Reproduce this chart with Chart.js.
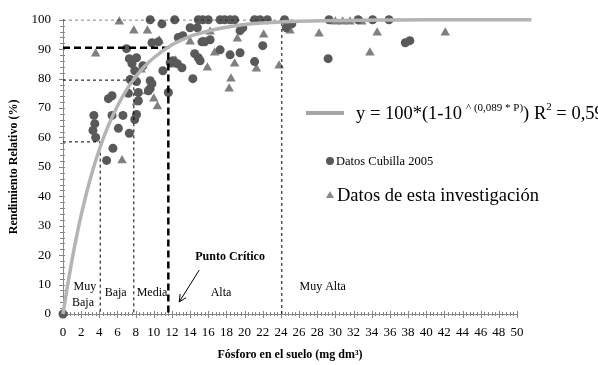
<!DOCTYPE html>
<html>
<head>
<meta charset="utf-8">
<script src="https://cdn.jsdelivr.net/npm/chart.js@4.4.0/dist/chart.umd.min.js"></script>
<style>
  html, body { margin: 0; padding: 0; background: #fff; }
  #wrap { width: 598px; height: 365px; }
</style>
</head>
<body>
<div id="wrap"><canvas id="grafico" width="598" height="365"></canvas></div>
<script>
// curva ajustada (sigue un poco despues del 50)
const curvaP = [0, 0.5, 1, 1.5, 2, 3, 4, 5, 6, 7, 8, 9, 10, 12, 14, 16, 18, 20, 23, 26, 30, 35, 40, 51.6];
const curvaY = [0, 9.7, 18.5, 26.4, 33.6, 45.9, 55.9, 64.1, 70.7, 76.2, 80.6, 84.2, 87.1, 91.5, 94.4, 96.2, 97.5, 98.4, 99.1, 99.5, 99.8, 99.9, 100, 100];

// Datos Cubilla 2005
const cubillaP = [0, 9.6, 10.9, 12.3, 14.9, 15.4, 16.0, 17.3, 17.8, 18.4, 18.9, 21.1, 21.7, 22.5, 24.4, 25.2, 29.3, 32.5, 34.1, 35.9,
  24.6, 14.0, 14.8, 12.7, 13.2, 15.3, 15.6, 16.2, 19.5, 19.8, 22.0, 14.5, 14.9, 15.1, 17.3, 18.4, 19.5, 21.1, 14.3, 12.1,
  12.6, 13.1, 9.8, 10.5, 7.0, 7.3, 7.6, 8.1, 7.9, 8.8, 11.0, 9.6, 9.8, 9.6, 9.4, 11.8, 8.3, 5.0, 5.4, 11.6,
  7.2, 8.3, 3.4, 5.4, 6.6, 7.9, 3.5, 6.1, 7.3, 3.3, 3.6, 5.5, 4.8, 29.2, 37.7, 38.2, 8.1, 8.1, 7.4];
const cubillaY = [0, 100, 98.6, 100, 100, 100, 100, 100, 100, 100, 100, 100, 100, 100, 100, 98.6, 100, 100, 100, 100,
  97.3, 97.3, 97.3, 94, 94.6, 92.5, 92.5, 93.2, 96.3, 97.3, 91.2, 88.5, 87.1, 86.1, 89.8, 88.1, 88.8, 85.8, 80, 86.1,
  85.1, 83.7, 92.2, 92.5, 90.2, 86.8, 85.1, 87.1, 82.7, 84.4, 82.7, 79.3, 78.3, 76.6, 75.9, 85.4, 75.3, 73.2, 74.2, 75.3,
  75, 72.5, 67.5, 67.5, 67.5, 66.1, 64.7, 63.1, 61.4, 62.4, 60, 56.3, 52.2, 86.8, 92.2, 92.9, 67.8, 79, 79.7];

// Datos de esta investigación
const invP = [6.2, 7.8, 9.3, 3.6, 14.0, 15.4, 19.2, 22.1, 16.7, 18.9, 21.3, 23.8, 15.9, 18.5, 18.3, 12.3, 12.0, 12.4,
  8.6, 9.3, 10.0, 10.4, 8.1, 6.5, 10.6, 16.2, 25.0, 28.2, 30.0, 30.8, 31.6, 32.9, 34.6, 33.8, 42.1];
const invY = [99.3, 96.3, 96.3, 88.5, 92.5, 92.5, 93.6, 94.9, 88.8, 85.1, 83.4, 84.4, 83.7, 80, 76.6, 85.1, 84.7, 86.1,
  83, 75.6, 73.2, 70.5, 71.9, 52.2, 92.9, 95.9, 96.3, 95.3, 99.3, 99.3, 99.3, 99.3, 95.6, 88.8, 95.6];

// limites de las clases de fertilidad
const cortesP = [4.1, 7.8, 11.6, 24.1];
const cortesY = [58.5, 79.5, 90.5, 100];

const ticksX = [0, 2, 4, 6, 8, 10, 12, 14, 16, 18, 20, 22, 24, 26, 28, 30, 32, 34, 36, 38, 40, 42, 44, 46, 48, 50];
const ticksY = [0, 10, 20, 30, 40, 50, 60, 70, 80, 90, 100];

const serif = "'Liberation Serif', 'Times New Roman', serif";
const gris = "#868686";

const pares = (xs, ys) => xs.map((v, i) => ({ x: v, y: ys[i] }));

const lineasCorte = cortesP.map((p, i) => ({
  type: "line",
  data: [{ x: 0, y: cortesY[i] }, { x: p, y: cortesY[i] }, { x: p, y: 0 }],
  borderColor: "#000",
  borderWidth: i === 2 ? 2.5 : 1,
  borderDash: i === 2 ? [7, 4] : [3, 3],
  pointRadius: 0,
  showLine: true,
  fill: false,
}));

// marcas menores de los ejes + textos
const extras = {
  id: "extras",
  beforeDatasetsDraw(chart) {
    const { ctx, chartArea: a, scales: { x, y } } = chart;
    ctx.save();
    ctx.strokeStyle = gris;
    ctx.lineWidth = 1;
    ctx.beginPath();
    for (let i = 0; i <= 125; i++) {
      const px = Math.round(x.getPixelForValue(i * 0.4)) + 0.5;
      const mayor = i % 5 === 0;
      ctx.moveTo(px, a.bottom - (mayor ? 3 : 2));
      ctx.lineTo(px, a.bottom + (mayor ? 4 : 2));
    }
    for (let i = 0; i <= 50; i++) {
      const py = Math.round(y.getPixelForValue(i * 2)) + 0.5;
      const mayor = i % 5 === 0;
      ctx.moveTo(a.left - (mayor ? 4 : 3), py);
      ctx.lineTo(a.left + 2, py);
    }
    ctx.stroke();
    ctx.restore();
  },
  afterDraw(chart) {
    const { ctx, scales: { x, y } } = chart;
    ctx.save();
    ctx.fillStyle = "#000";
    ctx.textAlign = "center";
    ctx.textBaseline = "middle";
    ctx.font = "12px " + serif;
    const t = (s, px, py) => ctx.fillText(s, x.getPixelForValue(px), y.getPixelForValue(py));
    t("Muy", 2.4, 9.2);
    t("Baja", 2.2, 3.7);
    t("Baja", 5.8, 7.1);
    t("Media", 9.8, 7.1);
    t("Alta", 17.4, 7.1);
    t("Muy Alta", 28.6, 9.4);
    ctx.font = "bold 12px " + serif;
    t("Punto Crítico", 18.4, 19.3);

    // flecha hacia el punto critico
    const x1 = x.getPixelForValue(15.0), y1 = y.getPixelForValue(14.9);
    const x2 = x.getPixelForValue(12.8), y2 = y.getPixelForValue(4.1);
    const ang = Math.atan2(y2 - y1, x2 - x1);
    ctx.strokeStyle = "#000";
    ctx.lineWidth = 1;
    ctx.beginPath();
    ctx.moveTo(x1, y1);
    ctx.lineTo(x2, y2);
    ctx.moveTo(x2 - 8 * Math.cos(ang - 0.45), y2 - 8 * Math.sin(ang - 0.45));
    ctx.lineTo(x2, y2);
    ctx.lineTo(x2 - 8 * Math.cos(ang + 0.45), y2 - 8 * Math.sin(ang + 0.45));
    ctx.stroke();

    // leyenda
    ctx.textAlign = "left";
    ctx.textBaseline = "alphabetic";
    ctx.fillStyle = "#a6a6a6";
    ctx.fillRect(306, 111, 38, 4);
    ctx.fillStyle = "#000";
    ctx.font = "18.5px " + serif;
    let cx = 356;
    ctx.fillText("y = 100*(1-10", cx, 119);
    cx += ctx.measureText("y = 100*(1-10").width + 4;
    ctx.font = "11px " + serif;
    ctx.fillText("^ (0,089 * P)", cx, 111);
    cx += ctx.measureText("^ (0,089 * P)").width;
    ctx.font = "18.5px " + serif;
    ctx.fillText(") R", cx, 119);
    cx += ctx.measureText(") R").width;
    ctx.font = "11px " + serif;
    ctx.fillText("2", cx, 110);
    cx += ctx.measureText("2").width;
    ctx.font = "18.5px " + serif;
    ctx.fillText(" = 0,59", cx, 119);

    ctx.fillStyle = "#595959";
    ctx.beginPath();
    ctx.arc(330, 161, 4, 0, Math.PI * 2);
    ctx.fill();
    ctx.fillStyle = "#000";
    ctx.font = "12.5px " + serif;
    ctx.fillText("Datos Cubilla 2005", 336, 165);

    ctx.fillStyle = "#8a8a8a";
    ctx.beginPath();
    ctx.moveTo(330, 191);
    ctx.lineTo(334, 198);
    ctx.lineTo(326, 198);
    ctx.closePath();
    ctx.fill();
    ctx.fillStyle = "#000";
    ctx.font = "18.5px " + serif;
    ctx.fillText("Datos de esta investigación", 337, 201);
    ctx.restore();
  },
};

new Chart(document.getElementById("grafico"), {
  type: "scatter",
  data: {
    datasets: [
      {
        type: "line",
        data: pares(curvaP, curvaY),
        borderColor: "#b4b4b4",
        borderWidth: 3.5,
        pointRadius: 0,
        cubicInterpolationMode: "monotone",
        fill: false,
        clip: false,
      },
      ...lineasCorte,
      {
        data: pares(cubillaP, cubillaY),
        pointStyle: "circle",
        pointRadius: 4.5,
        backgroundColor: "#595959",
        borderWidth: 0,
        clip: false,
      },
      {
        data: pares(invP, invY),
        pointStyle: "triangle",
        pointRadius: 5.5,
        backgroundColor: "#808080",
        borderWidth: 0,
        clip: false,
      },
    ],
  },
  options: {
    responsive: false,
    animation: false,
    events: [],
    layout: { padding: { top: 19, right: 81, left: 0, bottom: 0 } },
    plugins: { legend: { display: false }, tooltip: { enabled: false } },
    scales: {
      x: {
        type: "linear",
        min: 0,
        max: 50,
        afterFit: (s) => { s.height = 51; },
        afterBuildTicks: (s) => { s.ticks = ticksX.map((v) => ({ value: v })); },
        grid: { display: false, drawTicks: false },
        border: { color: gris },
        ticks: { color: "#000", font: { family: serif, size: 13 }, padding: 11, maxRotation: 0, autoSkip: false },
        title: {
          display: true,
          text: "Fósforo en el suelo (mg dm³)",
          color: "#000",
          font: { family: serif, size: 12, weight: "bold" },
          padding: { top: 0, bottom: 3 },
        },
      },
      y: {
        min: 0,
        max: 100,
        afterFit: (s) => { s.width = 63; },
        afterBuildTicks: (s) => { s.ticks = ticksY.map((v) => ({ value: v })); },
        grid: { display: false, drawTicks: false },
        border: { color: gris },
        ticks: { color: "#000", font: { family: serif, size: 13 }, padding: 12 },
        title: {
          display: true,
          text: "Rendimiento Relativo (%)",
          color: "#000",
          font: { family: serif, size: 12, weight: "bold" },
          padding: { top: 7, bottom: 0 },
        },
      },
    },
  },
  plugins: [extras],
});
</script>
</body>
</html>
